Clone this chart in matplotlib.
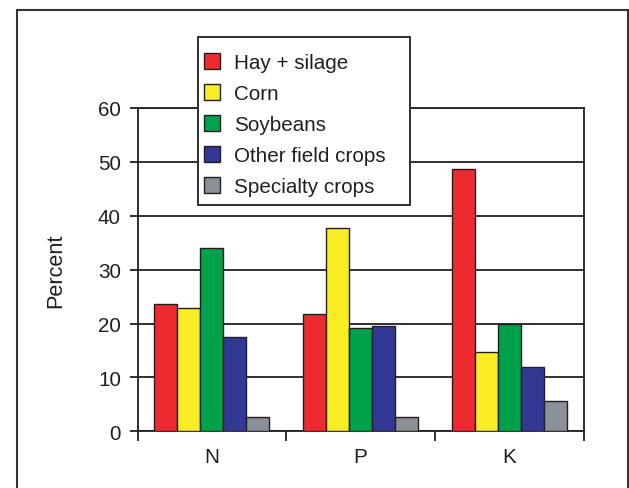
import numpy as np
import matplotlib.pyplot as plt
from matplotlib.patches import Rectangle

# ── Data ─────────────────────────────────────────────
nutrients = ['N', 'P', 'K']
crops = ['Hay + silage', 'Corn', 'Soybeans', 'Other field crops', 'Specialty crops']
hay = [23.6, 21.7, 48.7]
corn = [22.8, 37.8, 14.7]
soy = [34.0, 19.1, 19.9]
other = [17.5, 19.6, 12.0]
specialty = [2.6, 2.6, 5.6]
colors = ['#ec2a2f', '#f8ec25', '#00a14b', '#333894', '#8a9097']

plt.rcParams['font.family'] = ['Liberation Sans', 'DejaVu Sans']
dark = '#231f20'
fs = 14.9

fig = plt.figure(figsize=(6.29, 4.89), dpi=100)
ax = fig.add_axes([137.5 / 629, 1 - 432.3 / 489, (583.6 - 137.5) / 629, (432.3 - 109) / 489])

series = [hay, corn, soy, other, specialty]
w = 0.155
x = np.arange(len(nutrients)) + 0.5
for i, (vals, c) in enumerate(zip(series, colors)):
    ax.bar(x + (i - 2) * w, vals, width=w, color=c, edgecolor=dark,
           linewidth=1.0, label=crops[i], zorder=3)

ax.set_xlim(0, 3)
ax.set_ylim(0, 60)
ax.set_yticks(range(0, 61, 10))
ax.set_xticks([0, 1, 2, 3])
ax.set_xticklabels([])
ax.set_xticks(x, minor=True)
ax.set_xticklabels(nutrients, minor=True)
ax.tick_params(axis='x', which='major', length=7, width=1.3, color=dark, direction='out')
ax.tick_params(axis='x', which='minor', length=0, pad=11, labelsize=fs, labelcolor=dark)
ax.tick_params(axis='y', length=6, width=1.3, color=dark, pad=6, labelsize=fs, labelcolor=dark)
ax.yaxis.grid(True, color=dark, linewidth=1.3, zorder=0)
ax.set_axisbelow(True)
for s in ax.spines.values():
    s.set_color(dark)
    s.set_linewidth(1.3)
ax.set_ylabel('Percent', fontsize=15.6, color=dark, labelpad=22.5)

# legend box drawn by hand to match the original size
ax.add_patch(Rectangle((197.8 / 629, 1 - 206.3 / 489), (410 - 197.8) / 629, (206.3 - 38.3) / 489,
                       transform=fig.transFigure, facecolor='white', edgecolor=dark,
                       linewidth=1.3, clip_on=False, zorder=10))
leg = ax.legend(loc='center left', bbox_to_anchor=(204.0 / 629, 1 - 125.5 / 489),
                bbox_transform=fig.transFigure, frameon=False, fontsize=fs,
                handlelength=0.78, handleheight=0.78, handletextpad=0.66,
                labelspacing=0.58, borderpad=0, borderaxespad=0)
for t in leg.get_texts():
    t.set_color(dark)
leg.set_zorder(11)

# outer frame of the figure
fig.patches.append(Rectangle((17 / 629, -0.1), 611 / 629, 1.1 - 11 / 489,
                             transform=fig.transFigure, fill=False, edgecolor='#333333',
                             linewidth=1.5, zorder=0))

plt.savefig('out.png')
